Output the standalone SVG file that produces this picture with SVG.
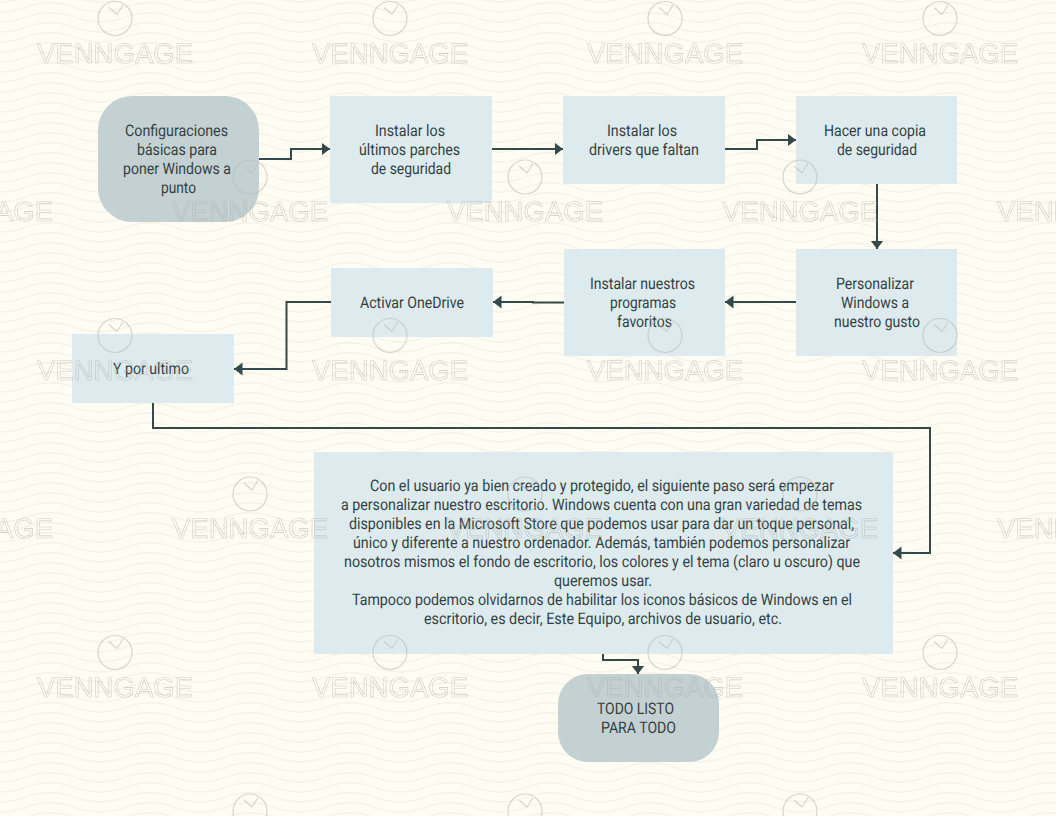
<svg xmlns="http://www.w3.org/2000/svg" width="1056" height="816" viewBox="0 0 1056 816">
<style>
.b{fill:#ddebef}.r{fill:#c4d1d3}
text{font-family:Roboto,"Liberation Sans",sans-serif;font-size:16px;fill:#333f3f;text-rendering:geometricPrecision}
.c{fill:none;stroke:#344a4a;stroke-width:2;marker-end:url(#a)}
.w{font-family:"Liberation Sans",sans-serif;font-size:28px;fill:none;stroke:#a9a8a1;stroke-width:.55}
.k{fill:none;stroke:#bdbcb4;stroke-width:1.2}
.v{fill:none;stroke:#f5f2e7;stroke-width:1.4}
</style>
<defs>
<filter id="g" x="0" y="0" width="1056" height="816" filterUnits="userSpaceOnUse"><feOffset dx="0" dy="0"/></filter>
<marker id="a" markerUnits="userSpaceOnUse" markerWidth="10" markerHeight="14" refX="8.500" refY="7" orient="auto"><path d="M0,0.500L8.500,7L0,13.500Z" fill="#344a4a"/></marker>
<path id="l" d="M0,12C25,12 25,2.700 50,2.700S75,12 100,12"/>
<pattern id="p" width="100" height="10" patternUnits="userSpaceOnUse">
<use href="#l" class="v" y="-10"/><use href="#l" class="v"/><use href="#l" class="v" y="10"/>
</pattern>
<g id="m" opacity=".6">
<circle class="k" cx="0" cy="-34.500" r="17"/>
<path class="k" d="M2,-38.500L-6,-45.500M2,-38.500L8,-48"/>
<text class="w" x="0" y="9.500" text-anchor="middle" textLength="156" lengthAdjust="spacingAndGlyphs">VENNGAGE</text>
</g>
</defs>
<rect width="1056" height="816" fill="#fffdf3"/>
<rect width="1056" height="816" fill="url(#p)"/>
<g id="connectors">
<path class="c" d="M259,159H291V149H330"/>
<path class="c" d="M492,149H563"/>
<path class="c" d="M725,149H757V140H796"/>
<path class="c" d="M877,184V249"/>
<path class="c" d="M796,302H725"/>
<path class="c" d="M564,302.500H533V302H493"/>
<path class="c" d="M331,302H286.500V369H234"/>
<path class="c" d="M153,403V428H930V553H893"/>
<path class="c" d="M603,654V660H638V674"/>
</g>
<g id="n1"><rect class="r" x="98" y="96" width="161" height="126" rx="34"/>
<text x="125" y="136" textLength="103" lengthAdjust="spacingAndGlyphs">Configuraciones</text>
<text x="137" y="155" textLength="80" lengthAdjust="spacingAndGlyphs">básicas para</text>
<text x="123" y="174" textLength="108" lengthAdjust="spacingAndGlyphs">poner Windows a</text>
<text x="161" y="193" textLength="35" lengthAdjust="spacingAndGlyphs">punto</text></g>
<g id="n2"><rect class="b" x="330" y="96" width="162" height="107"/>
<text x="375" y="136" textLength="70" lengthAdjust="spacingAndGlyphs">Instalar los</text>
<text x="359" y="155" textLength="101" lengthAdjust="spacingAndGlyphs">últimos parches</text>
<text x="371" y="174" textLength="80" lengthAdjust="spacingAndGlyphs">de seguridad</text></g>
<g id="n3"><rect class="b" x="563" y="96" width="162" height="88"/>
<text x="607" y="136" textLength="70" lengthAdjust="spacingAndGlyphs">Instalar los</text>
<text x="589" y="155" textLength="110" lengthAdjust="spacingAndGlyphs">drivers que faltan</text></g>
<g id="n4"><rect class="b" x="796" y="96" width="161" height="88"/>
<text x="824" y="136" textLength="102" lengthAdjust="spacingAndGlyphs">Hacer una copia</text>
<text x="837" y="155" textLength="80" lengthAdjust="spacingAndGlyphs">de seguridad</text></g>
<g id="n5"><rect class="b" x="796" y="249" width="161" height="107"/>
<text x="836" y="289" textLength="78" lengthAdjust="spacingAndGlyphs">Personalizar</text>
<text x="841" y="308" textLength="68" lengthAdjust="spacingAndGlyphs">Windows a</text>
<text x="834" y="327" textLength="86" lengthAdjust="spacingAndGlyphs">nuestro gusto</text></g>
<g id="n6"><rect class="b" x="564" y="249" width="161" height="107"/>
<text x="590" y="289" textLength="105" lengthAdjust="spacingAndGlyphs">Instalar nuestros</text>
<text x="610" y="308" textLength="66" lengthAdjust="spacingAndGlyphs">programas</text>
<text x="617" y="327" textLength="55" lengthAdjust="spacingAndGlyphs">favoritos</text></g>
<g id="n7"><rect class="b" x="331" y="268" width="162" height="69"/>
<text x="360" y="308" textLength="104" lengthAdjust="spacingAndGlyphs">Activar OneDrive</text></g>
<g id="n8"><rect class="b" x="72" y="334" width="162" height="69"/>
<text x="113" y="374" textLength="76" lengthAdjust="spacingAndGlyphs">Y por ultimo</text></g>
<g id="n9"><rect class="b" x="314" y="452" width="579" height="202"/>
<text x="370" y="491" textLength="464" lengthAdjust="spacingAndGlyphs">Con el usuario ya bien creado y protegido, el siguiente paso será empezar</text>
<text x="341" y="510" textLength="521" lengthAdjust="spacingAndGlyphs">a personalizar nuestro escritorio. Windows cuenta con una gran variedad de temas</text>
<text x="349" y="529" textLength="505" lengthAdjust="spacingAndGlyphs">disponibles en la Microsoft Store que podemos usar para dar un toque personal,</text>
<text x="353" y="548" textLength="497" lengthAdjust="spacingAndGlyphs">único y diferente a nuestro ordenador. Además, también podemos personalizar</text>
<text x="344" y="567" textLength="516" lengthAdjust="spacingAndGlyphs">nosotros mismos el fondo de escritorio, los colores y el tema (claro u oscuro) que</text>
<text x="554" y="586" textLength="98" lengthAdjust="spacingAndGlyphs">queremos usar.</text>
<text x="352" y="605" textLength="500" lengthAdjust="spacingAndGlyphs">Tampoco podemos olvidarnos de habilitar los iconos básicos de Windows en el</text>
<text x="424" y="624" textLength="358" lengthAdjust="spacingAndGlyphs">escritorio, es decir, Este Equipo, archivos de usuario, etc.</text></g>
<g id="n10"><rect class="r" x="558" y="674" width="161" height="88" rx="30"/>
<text x="597" y="714" textLength="77" lengthAdjust="spacingAndGlyphs">TODO LISTO</text>
<text x="601" y="733" textLength="75" lengthAdjust="spacingAndGlyphs">PARA TODO</text></g>
<g id="watermarks" filter="url(#g)">
<use href="#m" x="115" y="53"/><use href="#m" x="390" y="53"/><use href="#m" x="665" y="53"/><use href="#m" x="940" y="53"/>
<use href="#m" x="-25" y="211.500"/><use href="#m" x="250" y="211.500"/><use href="#m" x="525" y="211.500"/><use href="#m" x="800" y="211.500"/><use href="#m" x="1075" y="211.500"/>
<use href="#m" x="115" y="370"/><use href="#m" x="390" y="370"/><use href="#m" x="665" y="370"/><use href="#m" x="940" y="370"/>
<use href="#m" x="-25" y="528.500"/><use href="#m" x="250" y="528.500"/><use href="#m" x="525" y="528.500"/><use href="#m" x="800" y="528.500"/><use href="#m" x="1075" y="528.500"/>
<use href="#m" x="115" y="687"/><use href="#m" x="390" y="687"/><use href="#m" x="665" y="687"/><use href="#m" x="940" y="687"/>
<use href="#m" x="250" y="845.500"/><use href="#m" x="525" y="845.500"/><use href="#m" x="800" y="845.500"/>
</g>
</svg>
